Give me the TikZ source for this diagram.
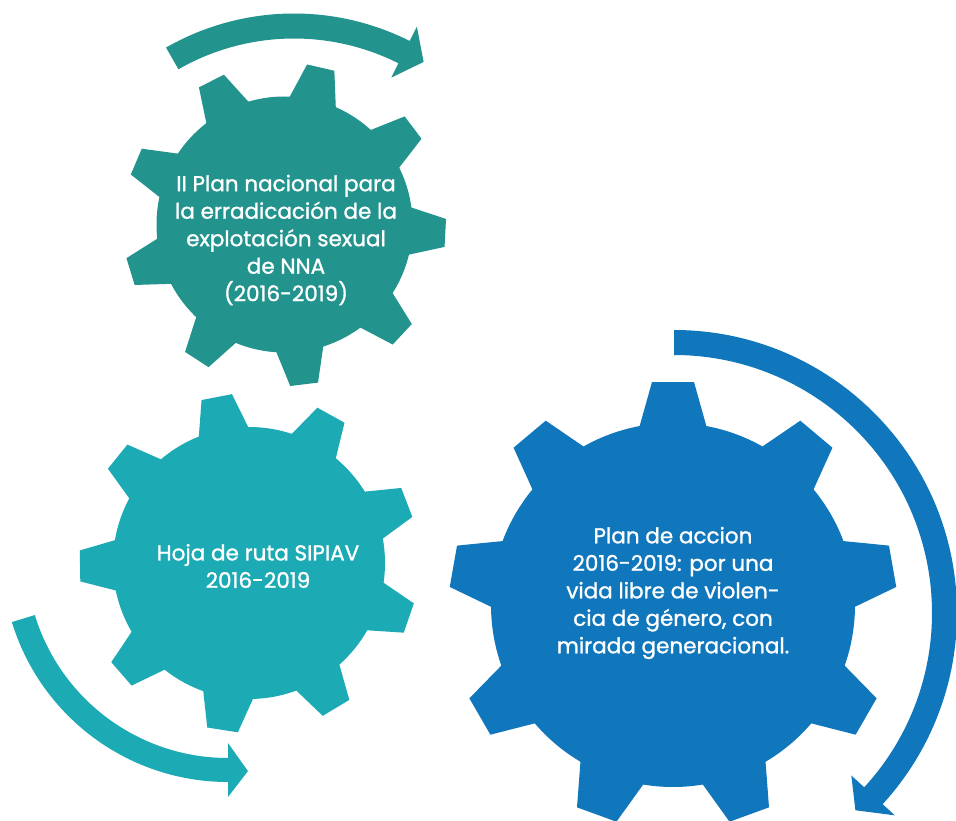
\documentclass[tikz,border=0pt]{standalone}
\usepackage{fontspec}
\newfontfamily\gfont{Poppins}[FakeBold=1.2]
\definecolor{gA}{HTML}{22938D}
\definecolor{gB}{HTML}{1CAAB4}
\definecolor{gC}{HTML}{1177BD}
\newcommand{\drawgear}[8]{%
  \pgfmathsetmacro{\gin}{0.88*#3}%
  \pgfmathsetmacro{\gw}{#5+(#5-#6)*(0.12*#3)/(#4-#3)}%
  \fill[#8] (#1,#2) circle[radius=#3];
  \foreach \ga in {0,40,...,320}{%
    \fill[#8,shift={(#1,#2)},rotate={\ga+#7}] (\gin,-\gw) -- (#4,-#6) -- (#4,#6) -- (\gin,\gw) -- cycle;
  }%
}
\tikzset{gtext/.style={text=white,align=center,font=\gfont\fontsize{21.5}{27.5}\selectfont}}
\begin{document}
\begin{tikzpicture}[x=1pt,y=1pt]
\useasboundingbox (0,0) rectangle (956,-821);
% gears
\drawgear{284.5}{-224.5}{128}{161}{23}{14}{-3}{gA}
\drawgear{249}{-563}{136}{169}{24.5}{15.5}{21}{gB}
\drawgear{673}{-605}{182}{223}{32.5}{21}{10}{gC}
% top arrow
\begin{scope}[shift={(294,-271)}]
\fill[gA] (119.8:257.5) arc[start angle=119.8,end angle=63.3,radius=257.5]
  -- (63.3:273.5) -- (58.2:246) -- (63.3:216.5) -- (63.3:232.5)
  arc[start angle=63.3,end angle=119.8,radius=232.5] -- cycle;
\end{scope}
% right arrow
\begin{scope}[shift={(674,-613)}]
\fill[gC] (90:283) arc[start angle=90,end angle=-42.5,radius=283]
  -- (-42.5:299.5) -- (-47.4:268) -- (-42.5:240.5) -- (-42.5:258)
  arc[start angle=-42.5,end angle=90,radius=258] -- cycle;
\end{scope}
% bottom-left arrow
\begin{scope}[shift={(228,-556)}]
\fill[gB] (197:226) arc[start angle=197,end angle=270,radius=226]
  -- (270:241) -- (275.3:216) -- (270:187) -- (270:202)
  arc[start angle=270,end angle=197,radius=202] -- cycle;
\end{scope}
% texts
\node[gtext] (t1) at (286,-240) {II Plan nacional para\\la erradicación de la\\explotación sexual\\de NNA\\(2016-2019)};
\node[gtext] (t2) at (258,-566) {Hoja de ruta SIPIAV\\2016-2019};
\node[gtext] (t3) at (673,-593) {Plan de accion\\2016-2019: por una\\vida libre de violen-\\cia de género, con\\mirada generacional.};
\end{tikzpicture}
\end{document}
